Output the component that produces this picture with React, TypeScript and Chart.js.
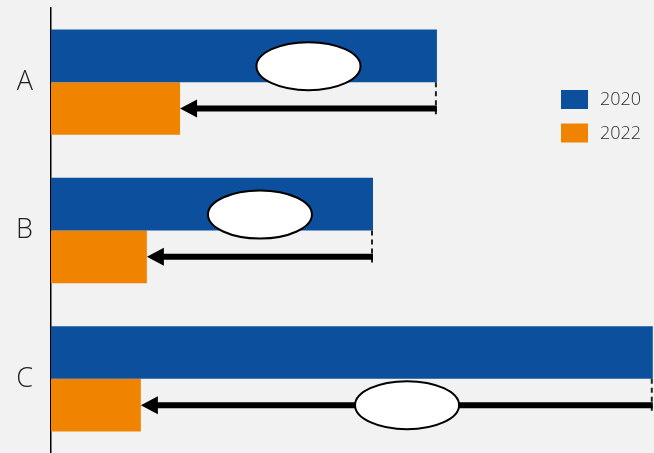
import React, { useEffect, useRef } from "react";
import { Chart, registerables } from "chart.js";

Chart.register(...registerables);

const categories = ["A", "B", "C"];
const series2020 = [64.0, 53.4, 99.8];
const series2022 = [21.4, 15.9, 14.9];
const seriesLabels = ["2020", "2022"];
const seriesColors = ["#0C509D", "#F08400"];
const bubbleFraction = [0.5, 0.5, 0.52];
const bubbleOnArrow = [false, false, true];

const FONT = "'Open Sans', 'DejaVu Sans', sans-serif";

const decorPlugin = {
  id: "decor",
  afterDatasetsDraw(chart: any) {
    const ctx = chart.ctx;
    const m0 = chart.getDatasetMeta(0);
    const m1 = chart.getDatasetMeta(1);
    ctx.save();
    m0.data.forEach((b0: any, i: number) => {
      const b1 = m1.data[i];
      const xStart = b0.x;
      const xEnd = b1.x;
      const ay = b1.y;
      const headLen = 17;
      const headHalf = 9;
      ctx.save();
      ctx.strokeStyle = "#222";
      ctx.lineWidth = 2;
      ctx.setLineDash([5, 4]);
      ctx.beginPath();
      ctx.moveTo(xStart - 1, b0.y + b0.height / 2);
      ctx.lineTo(xStart - 1, ay + 8);
      ctx.stroke();
      ctx.restore();
      ctx.strokeStyle = "#000";
      ctx.lineWidth = 6;
      ctx.setLineDash([]);
      ctx.beginPath();
      ctx.moveTo(xStart, ay);
      ctx.lineTo(xEnd + headLen - 1, ay);
      ctx.stroke();
      ctx.fillStyle = "#000";
      ctx.beginPath();
      ctx.moveTo(xEnd, ay);
      ctx.lineTo(xEnd + headLen, ay - headHalf);
      ctx.lineTo(xEnd + headLen, ay + headHalf);
      ctx.closePath();
      ctx.fill();
      const cx = xEnd + bubbleFraction[i] * (xStart - xEnd);
      const cy = bubbleOnArrow[i] ? ay : b0.y + b0.height / 2 - 16;
      ctx.beginPath();
      ctx.ellipse(cx, cy, 52, 24, 0, 0, Math.PI * 2);
      ctx.fillStyle = "#ffffff";
      ctx.fill();
      ctx.lineWidth = 2;
      ctx.strokeStyle = "#000";
      ctx.stroke();
    });
    ctx.restore();
  },
  afterDraw(chart: any) {
    const ctx = chart.ctx;
    ctx.save();
    chart.data.datasets.forEach((ds: any, i: number) => {
      const y = 90 + i * 33.5;
      ctx.fillStyle = ds.backgroundColor;
      ctx.fillRect(561, y, 27, 19);
      ctx.fillStyle = "#2a2a2a";
      ctx.font = `300 18px ${FONT}`;
      ctx.textBaseline = "middle";
      ctx.textAlign = "left";
      ctx.fillText(ds.label, 600, y + 10);
    });
    ctx.restore();
  },
};

export default function App() {
  const ref = useRef<HTMLCanvasElement | null>(null);
  useEffect(() => {
    if (!ref.current) return;
    const chart = new Chart(ref.current, {
      type: "bar",
      data: {
        labels: categories,
        datasets: [
          { label: seriesLabels[0], data: series2020, backgroundColor: seriesColors[0] },
          { label: seriesLabels[1], data: series2022, backgroundColor: seriesColors[1] },
        ],
      },
      options: {
        indexAxis: "y",
        animation: false,
        responsive: true,
        maintainAspectRatio: false,
        datasets: { bar: { categoryPercentage: 0.71, barPercentage: 1 } },
        layout: { padding: { top: 8, right: 0, bottom: 0, left: 0 } },
        plugins: { legend: { display: false }, tooltip: { enabled: false } },
        scales: {
          x: { display: false, min: 0, max: 100 },
          y: {
            grid: { display: false, drawTicks: false },
            border: { display: true, color: "#000", width: 1.5 },
            ticks: {
              color: "#222",
              padding: 18,
              font: { family: FONT, size: 27, weight: "300" as any },
            },
            afterFit: (s: any) => {
              s.width = 51;
              s.paddingTop = 0;
              s.paddingBottom = 0;
            },
          },
        },
      },
      plugins: [decorPlugin],
    });
    return () => chart.destroy();
  }, []);
  return (
    <div
      style={{
        position: "fixed",
        left: 0,
        top: 0,
        width: 654,
        height: 453,
        background: "#f2f2f2",
      }}
    >
      <canvas ref={ref} />
    </div>
  );
}
